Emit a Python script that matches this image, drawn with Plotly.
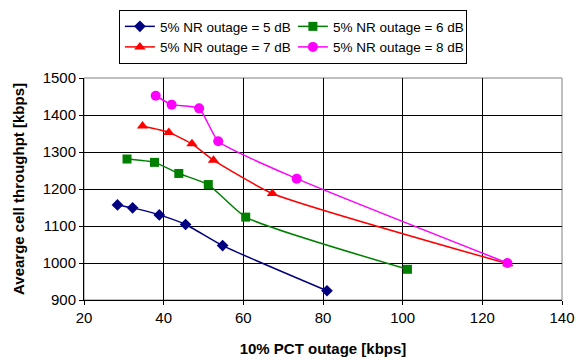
import plotly.graph_objects as go

names = ["5% NR outage = 5 dB", "5% NR outage = 6 dB", "5% NR outage = 7 dB", "5% NR outage = 8 dB"]
x5 = [28.4, 32.2, 38.9, 45.5, 54.8, 81.0]
y5 = [1157, 1149, 1130, 1104, 1047, 925]
x6 = [30.8, 37.7, 43.8, 51.2, 60.6, 101.2]
y6 = [1281, 1272, 1242, 1212, 1124, 983]
x7 = [34.7, 41.3, 47.1, 52.5, 67.3, 126.4]
y7 = [1370, 1353, 1322, 1278, 1188, 998]
x8 = [38.0, 42.0, 48.9, 53.7, 73.4, 126.3]
y8 = [1452, 1428, 1418, 1329, 1228, 1000]

colors = ["#000080", "#008000", "#FF0000", "#FF00FF"]
symbols = ["diamond", "square", "triangle-up", "circle"]
sizes = [9, 9, 10, 10]
xs = [x5, x6, x7, x8]
ys = [y5, y6, y7, y8]

fig = go.Figure()
for n, xv, yv, c, s, sz in zip(names, xs, ys, colors, symbols, sizes):
    fig.add_trace(go.Scatter(
        x=xv, y=yv, name=n, mode="lines+markers",
        line=dict(color=c, width=1.5, shape="spline", smoothing=0.5),
        marker=dict(symbol=s, size=sz, color=c),
    ))

font = "Liberation Sans, Arial, sans-serif"
fig.update_layout(
    width=576, height=360,
    margin=dict(l=84, r=14, t=78, b=60, autoexpand=False),
    paper_bgcolor="white", plot_bgcolor="white",
    font=dict(family=font, size=15, color="black"),
    showlegend=True,
    legend=dict(
        orientation="h", x=0.437, xanchor="center", y=0.972, yanchor="top",
        yref="container",
        entrywidth=128, entrywidthmode="pixels",
        bordercolor="black", borderwidth=1,
        font=dict(family=font, size=13.5, color="black"),
        tracegroupgap=0, itemwidth=30,
    ),
    xaxis=dict(
        range=[20, 140], dtick=20, tick0=20, automargin=False,
        showgrid=True, gridcolor="black", gridwidth=1,
        showline=True, linecolor="black", linewidth=1, mirror=False,
        ticks="outside", ticklen=4, tickcolor="black",
        zeroline=False, tickfont=dict(size=15),
        title=dict(text="<b>10% PCT outage [kbps]</b>", font=dict(size=15), standoff=18),
    ),
    yaxis=dict(
        range=[900, 1500], dtick=100, automargin=False,
        showgrid=True, gridcolor="black", gridwidth=1,
        showline=True, linecolor="black", linewidth=1,
        ticks="outside", ticklen=4, tickcolor="black",
        zeroline=False, tickfont=dict(size=15),
        title=dict(text="<b>Avearge cell throughpt [kbps]</b>", font=dict(size=15), standoff=14),
    ),
)
# gray frame on top/right
fig.add_shape(type="rect", xref="paper", yref="paper", x0=0, y0=0, x1=1, y1=1,
              line=dict(color="#808080", width=1), layer="below")

fig.write_html("out.html")
